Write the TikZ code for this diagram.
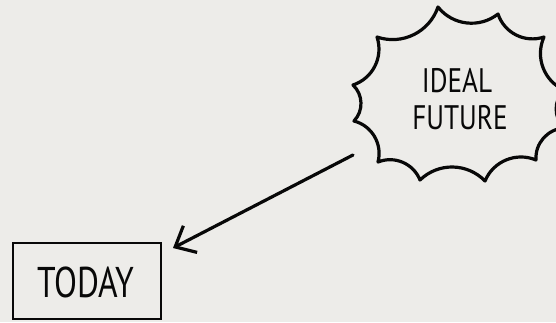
\documentclass[tikz,border=0pt]{standalone}
\usepackage{fontspec}
\setmainfont{PT Sans}
\usetikzlibrary{arrows.meta}
\definecolor{bg}{RGB}{237,236,233}
\definecolor{ink}{RGB}{8,8,8}
\newcommand{\handtext}[2]{\scalebox{#1}[1]{#2}}
\tikzset{
  outline/.style={draw=ink, line width=3.2pt, line join=round, line cap=round},
  scallop/.style={bend right=45},
  labeltext/.style={text=ink, inner sep=0pt, anchor=base},
}
\begin{document}
\begin{tikzpicture}[x=1pt,y=-1pt]
\fill[bg] (0,0) rectangle (556,322);
\useasboundingbox (0,0) rectangle (556,322);
\clip (0,0) rectangle (556,322);
% starburst tips
\coordinate (t1) at (438,7);
\coordinate (t2) at (498,14);
\coordinate (t3) at (544,37);
\coordinate (t4) at (564,90);
\coordinate (t5) at (564,128);
\coordinate (t6) at (536,160);
\coordinate (t7) at (485,181);
\coordinate (t8) at (420,180);
\coordinate (t9) at (378,162);
\coordinate (t10) at (354,121);
\coordinate (t11) at (353,85);
\coordinate (t12) at (377,37);
\draw[outline] (t1) to[scallop] (t2) to[scallop] (t3) to[scallop] (t4) to[scallop] (t5)
  to[scallop] (t6) to[scallop] (t7) to[scallop] (t8) to[scallop] (t9) to[scallop] (t10)
  to[scallop] (t11) to[scallop] (t12) to[scallop] cycle;
\node[labeltext, font=\fontsize{34}{37}\selectfont] (ideal) at (457,92) {\handtext{0.8}{IDEAL}};
\node[labeltext, font=\fontsize{34}{37}\selectfont] (future) at (460,129) {\handtext{0.8}{FUTURE}};
% today box
\node[draw=ink, line width=2.8pt, minimum width=148pt, minimum height=76pt, inner sep=0pt] (todaybox) at (87,281) {};
\node[labeltext, font=\fontsize{43}{48}\selectfont] (today) at (86,297) {\handtext{0.78}{TODAY}};
% arrow
\coordinate (arrowstart) at (353,155);
\coordinate (arrowend) at (173,248);
\draw[draw=ink, line width=3.2pt, line cap=round, -{Straight Barb[length=17pt,width=30pt,line width=3.2pt]}] (arrowstart) -- (arrowend);
\end{tikzpicture}
\end{document}
